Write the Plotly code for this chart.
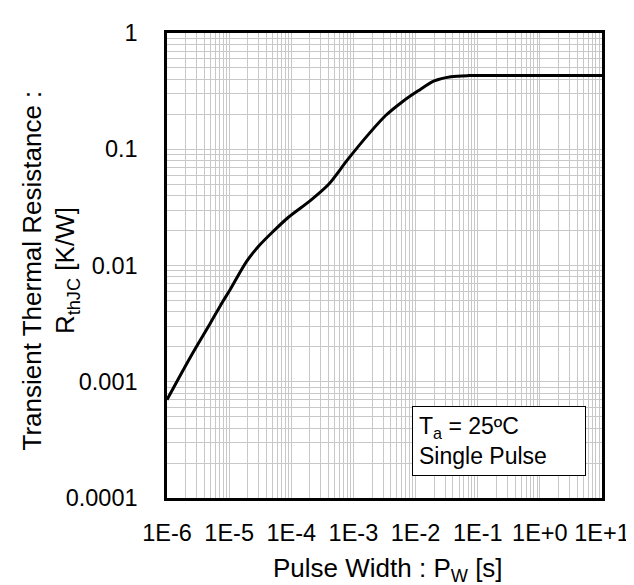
import plotly.graph_objects as go

pulse_width_s = [1e-6, 2.4e-6, 5e-6, 8e-6, 1e-5, 1.9e-5, 3e-5, 5e-5, 9e-5, 2e-4, 4e-4,
                 8e-4, 1.8e-3, 3.3e-3, 6e-3, 1.1e-2, 2e-2, 3.7e-2, 7e-2, 1e-1, 1.0, 10.0]
rth_jc = [0.0007, 0.00164, 0.0032, 0.00495, 0.0060, 0.0108, 0.0147, 0.0194, 0.026, 0.036, 0.050,
          0.081, 0.137, 0.195, 0.254, 0.318, 0.387, 0.421, 0.43, 0.43, 0.43, 0.43]

x_tick_vals = [1e-6, 1e-5, 1e-4, 1e-3, 1e-2, 1e-1, 1e0, 1e1]
x_tick_text = ["1E-6", "1E-5", "1E-4", "1E-3", "1E-2", "1E-1", "1E+0", "1E+1"]
y_tick_vals = [0.0001, 0.001, 0.01, 0.1, 1]
y_tick_text = ["0.0001", "0.001", "0.01", "0.1", "1"]

x_title = "Pulse Width : P<sub>W</sub> [s]"
y_title = "Transient Thermal Resistance :<br>R<sub>thJC</sub> [K/W]"
note_text = "T<sub>a</sub> = 25ºC<br>Single Pulse"

FONT = "Liberation Sans, Arial, sans-serif"
GRID = "#c8c8c8"

fig = go.Figure()
fig.add_trace(go.Scatter(x=pulse_width_s, y=rth_jc, mode="lines",
                         line=dict(color="black", width=3, shape="spline", smoothing=0.8),
                         showlegend=False, hoverinfo="skip"))

axis_common = dict(
    type="log", showline=True, mirror=True, linecolor="black", linewidth=2.5,
    showgrid=True, gridcolor=GRID, gridwidth=1, zeroline=False,
    ticks="outside", tickcolor="rgba(0,0,0,0)",
    tickfont=dict(family=FONT, size=23.5, color="black"),
    minor=dict(dtick="D1", showgrid=True, gridcolor=GRID, gridwidth=1, ticks=""),
)

fig.update_xaxes(**axis_common, range=[-6, 1], tickmode="array",
                 tickvals=x_tick_vals, ticktext=x_tick_text, ticklen=12)
fig.update_yaxes(**axis_common, range=[-4, 0], tickmode="array",
                 tickvals=y_tick_vals, ticktext=y_tick_text, ticklen=22)

# axis titles
fig.add_annotation(x=0.5, y=0, xref="paper", yref="paper", xanchor="center", yanchor="top",
                   xshift=3, yshift=-53, text=x_title, showarrow=False,
                   font=dict(family=FONT, size=26, color="black"))
fig.add_annotation(x=0, y=0.5, xref="paper", yref="paper", xanchor="center", yanchor="middle",
                   xshift=-117, yshift=-5, text=y_title, showarrow=False, textangle=-90,
                   font=dict(family=FONT, size=26, color="black"))

# condition box
fig.add_annotation(x=0.5628, y=0.0466, xref="paper", yref="paper", xanchor="left", yanchor="bottom",
                   text=note_text, align="left", valign="middle", showarrow=False,
                   width=160, height=56,
                   font=dict(family=FONT, size=23, color="black"),
                   bordercolor="black", borderwidth=1, borderpad=6, bgcolor="white")

fig.update_layout(width=634, height=585, margin=dict(l=159, r=29, t=17, b=95),
                  plot_bgcolor="white", paper_bgcolor="white")

fig.write_html("out.html")
